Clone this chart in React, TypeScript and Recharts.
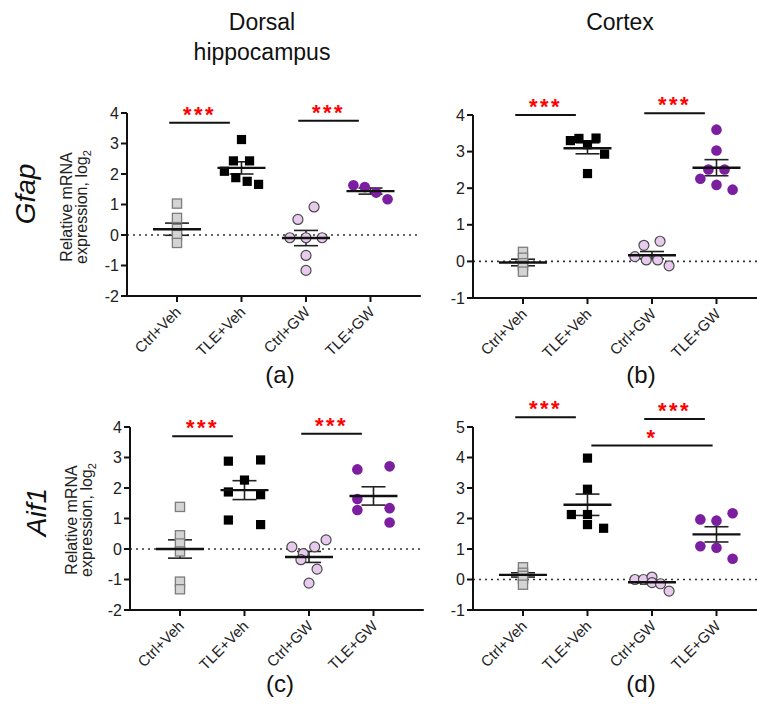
import React from "react";
import { ScatterChart, Scatter, XAxis, YAxis, ReferenceLine, ErrorBar } from "recharts";

const FONT = "'Liberation Sans', Arial, Helvetica, sans-serif";

const groups = ["Ctrl+Veh", "TLE+Veh", "Ctrl+GW", "TLE+GW"];

// each group: rows of points sitting side by side (null = empty slot in the row)
// (a) Gfap, dorsal hippocampus
const aCtrlVeh = [[1.03], [0.56], [0.2], [0.0], [-0.26]];
const aTleVeh = [[3.13], [2.43, 2.43], [2.09, 1.88, 1.76, 1.66]];
const aCtrlGw = [[0.51, 0.92], [-0.09, -0.09, -0.09], [-0.67], [-1.16]];
const aTleGw = [[1.63, 1.57, 1.39, 1.17]];
const aMean = [0.19, 2.2, -0.1, 1.44];
const aSem = [0.2, 0.2, 0.25, 0.1];

// (b) Gfap, cortex
const bCtrlVeh = [[0.26], [0.1], [-0.05], [-0.12], [-0.28]];
const bTleVeh = [[3.3, 3.36, 3.19, 3.37, 2.93], [2.4]];
const bCtrlGw = [[0.44, 0.55], [0.13, 0.04, 0.04, -0.12]];
const bTleGw = [[3.6], [3.03], [2.51, 2.51], [2.26, 2.09, 1.96]];
const bMean = [-0.03, 3.09, 0.17, 2.56];
const bSem = [0.09, 0.15, 0.1, 0.22];

// (c) Aif1, dorsal hippocampus
const cCtrlVeh = [[1.38], [0.45], [0.18], [-0.08], [-1.07], [-1.32]];
const cTleVeh = [[2.88, null, 2.92], [2.26], [1.87, null, 1.78], [0.95, null, 0.8]];
const cCtrlGw = [[0.07, -0.15, 0.07, 0.3], [-0.35, -0.66], [-1.12]];
const cTleGw = [[2.61, null, 2.71], [1.64, null, null], [1.28, null, 1.34], [null, null, 0.87]];
const cMean = [0.0, 1.93, -0.26, 1.74];
const cSem = [0.3, 0.31, 0.18, 0.3];

// (d) Aif1, cortex
const dCtrlVeh = [[0.4], [0.22], [0.12], [0.02], [-0.17]];
const dTleVeh = [[3.98], [2.96], [2.13, 2.13, null], [null, 1.8, 1.68]];
const dCtrlGw = [[0.0, 0.0, 0.08, null, null], [null, null, -0.1, -0.14, -0.38]];
const dTleGw = [[1.97, 1.93, 2.17], [1.09, 1.04, null], [null, null, 0.68]];
const dMean = [0.15, 2.45, -0.09, 1.48];
const dSem = [0.07, 0.35, 0.06, 0.25];

const ticksA = [-2, -1, 0, 1, 2, 3, 4];
const ticksB = [-1, 0, 1, 2, 3, 4];
const ticksD = [-1, 0, 1, 2, 3, 4, 5];

// significance bars: between group a and group b, at height y
const aSig = [{ a: 1, b: 2, y: 3.68, text: "***" }, { a: 3, b: 4, y: 3.75, text: "***" }];
const bSig = [{ a: 1, b: 2, y: 4.0, text: "***" }, { a: 3, b: 4, y: 4.05, text: "***" }];
const cSig = [{ a: 1, b: 2, y: 3.7, text: "***" }, { a: 3, b: 4, y: 3.78, text: "***" }];
const dSig = [
  { a: 1, b: 2, y: 5.32, text: "***" },
  { a: 3, b: 4, y: 5.26, text: "***" },
  { a: 2, b: 4, y: 4.39, text: "*" },
];

type Row = (number | null)[];
type Sig = { a: number; b: number; y: number; text: string };

const UNIT = 64.5; // px between groups
const X0 = 0.225;
const X1 = 4.78;
const PLOT_H = 183;
const TOP = 50;
const YW = 40;

function toPoints(rows: Row[], g: number) {
  const pts: { x: number; y: number }[] = [];
  rows.forEach((row) => {
    const n = row.length;
    const step = n > 1 ? Math.min(0.25, 0.53 / (n - 1)) : 0;
    row.forEach((v, j) => {
      if (v === null) return;
      pts.push({ x: g + (j - (n - 1) / 2) * step, y: v });
    });
  });
  return pts;
}

const GraySquare = (p: any) => (
  <rect x={p.cx - 4.6} y={p.cy - 4.6} width={9.2} height={9.2} fill="#d4d4d4" stroke="#7d7d7d" strokeWidth={1.3} />
);
const BlackSquare = (p: any) => (
  <rect x={p.cx - 4.6} y={p.cy - 4.6} width={9.2} height={9.2} fill="#000" />
);
const PinkCircle = (p: any) => (
  <circle cx={p.cx} cy={p.cy} r={5} fill="#e8caef" stroke="#4a4a4a" strokeWidth={1.2} />
);
const PurpleCircle = (p: any) => <circle cx={p.cx} cy={p.cy} r={5.3} fill="#7b1ea0" />;
const MeanLine = (p: any) => (
  <line x1={p.cx - 24} x2={p.cx + 24} y1={p.cy} y2={p.cy} stroke="#111" strokeWidth={2.4} />
);

const SigLabel = ({ viewBox, text }: any) => {
  const { x, y, width } = viewBox;
  return (
    <text x={x + width / 2} y={y - 1} textAnchor="middle" fill="#ff0000" fontSize={22} fontWeight="bold" letterSpacing={2.5} fontFamily={FONT}>
      {text}
    </text>
  );
};

const XTick = ({ x, y, payload }: any) => (
  <text x={0} y={0} transform={`translate(${x + 5},${y + 9}) rotate(-45)`} textAnchor="end" fontSize={15} fill="#222" fontFamily={FONT}>
    {groups[payload.value - 1]}
  </text>
);

const shapes = [GraySquare, BlackSquare, PinkCircle, PurpleCircle];

function Panel({ left, top, domain, ticks, sets, mean, sem, sig }: {
  left: number; top: number; domain: number[]; ticks: number[];
  sets: Row[][]; mean: number[]; sem: number[]; sig: Sig[];
}) {
  const plotW = (X1 - X0) * UNIT;
  const meanData = mean.map((m, i) => ({ x: i + 1, y: m, sem: sem[i] }));
  return (
    <div style={{ position: "absolute", left: left - YW, top: top - TOP }}>
      <ScatterChart width={YW + plotW} height={TOP + PLOT_H + 70} margin={{ top: TOP, right: 0, bottom: 0, left: 0 }}>
        <XAxis
          type="number" dataKey="x" domain={[X0, X1]} ticks={[1, 2, 3, 4]} interval={0}
          allowDataOverflow height={70} tick={<XTick />} tickSize={6}
          axisLine={{ stroke: "#111", strokeWidth: 2 }} tickLine={{ stroke: "#111", strokeWidth: 2 }}
        />
        <YAxis
          type="number" dataKey="y" domain={domain} ticks={ticks} interval={0} allowDataOverflow width={YW}
          tickSize={6} tick={{ fontSize: 16, fill: "#222", fontFamily: FONT }}
          axisLine={{ stroke: "#111", strokeWidth: 2 }} tickLine={{ stroke: "#111", strokeWidth: 2 }}
        />
        <ReferenceLine y={0} stroke="#333" strokeWidth={1.6} strokeDasharray="2 4" />
        {sets.map((rows, gi) => (
          <Scatter key={gi} data={toPoints(rows, gi + 1)} shape={shapes[gi]} isAnimationActive={false} />
        ))}
        <Scatter data={meanData} shape={MeanLine} isAnimationActive={false}>
          <ErrorBar dataKey="sem" direction="y" width={12} stroke="#222" strokeWidth={1.6} />
        </Scatter>
        {sig.map((s, i) => {
          const c = (s.a + s.b) / 2 - (s.b - s.a === 1 ? 0.15 : 0);
          const h = 0.47 * (s.b - s.a);
          return (
            <ReferenceLine
              key={i} ifOverflow="visible" stroke="#111" strokeWidth={2}
              segment={[{ x: c - h, y: s.y }, { x: c + h, y: s.y }]}
              label={<SigLabel text={s.text} />}
            />
          );
        })}
      </ScatterChart>
    </div>
  );
}

const YLabel = ({ x, y }: { x: number; y: number }) => (
  <g transform={`translate(${x},${y}) rotate(-90)`} fontFamily={FONT} fontSize={16} fill="#222">
    <text x={0} y={0} textAnchor="middle">Relative mRNA</text>
    <text x={0} y={15} textAnchor="middle">
      expression, log<tspan dy={4} fontSize={11}>2</tspan>
    </text>
  </g>
);

export default function App() {
  return (
    <div style={{ position: "absolute", left: 0, top: 0, width: 757, height: 705, overflow: "hidden", background: "#fff" }}>
      <Panel left={127} top={113} domain={[-2, 4]} ticks={ticksA} sets={[aCtrlVeh, aTleVeh, aCtrlGw, aTleGw]} mean={aMean} sem={aSem} sig={aSig} />
      <Panel left={473} top={115} domain={[-1, 4]} ticks={ticksB} sets={[bCtrlVeh, bTleVeh, bCtrlGw, bTleGw]} mean={bMean} sem={bSem} sig={bSig} />
      <Panel left={130} top={427} domain={[-2, 4]} ticks={ticksA} sets={[cCtrlVeh, cTleVeh, cCtrlGw, cTleGw]} mean={cMean} sem={cSem} sig={cSig} />
      <Panel left={473} top={427} domain={[-1, 5]} ticks={ticksD} sets={[dCtrlVeh, dTleVeh, dCtrlGw, dTleGw]} mean={dMean} sem={dSem} sig={dSig} />
      <svg width={757} height={705} style={{ position: "absolute", left: 0, top: 0, pointerEvents: "none" }} fontFamily={FONT} fill="#111">
        <text x={262} y={30} textAnchor="middle" fontSize={23}>Dorsal</text>
        <text x={262} y={60} textAnchor="middle" fontSize={23}>hippocampus</text>
        <text x={620} y={30} textAnchor="middle" fontSize={23}>Cortex</text>
        <text transform="translate(35,194) rotate(-90)" textAnchor="middle" fontSize={28} fontStyle="italic">Gfap</text>
        <text transform="translate(46,512) rotate(-90)" textAnchor="middle" fontSize={28} fontStyle="italic">Aif1</text>
        <YLabel x={72} y={207} />
        <YLabel x={77} y={520} />
        <text x={280} y={383} textAnchor="middle" fontSize={24}>(a)</text>
        <text x={641} y={383} textAnchor="middle" fontSize={24}>(b)</text>
        <text x={280} y={692} textAnchor="middle" fontSize={24}>(c)</text>
        <text x={641} y={692} textAnchor="middle" fontSize={24}>(d)</text>
      </svg>
    </div>
  );
}
